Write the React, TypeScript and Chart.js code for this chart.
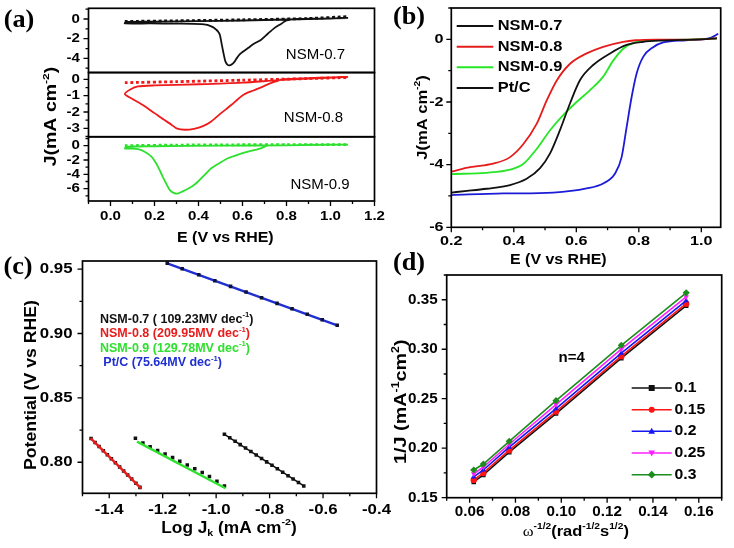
import { useEffect, useRef } from 'react';
import { Chart, registerables } from 'chart.js';

Chart.register(...registerables);

const PAGE_W = 734;
const PAGE_H = 548;
const SANS = 'Liberation Sans';
const SERIF = 'Liberation Serif';

/* ---------------- (a) cyclic voltammograms ---------------- */
const cvTickE = [0, 0.2, 0.4, 0.6, 0.8, 1.0, 1.2];
const cvTickELabels = ['0.0', '0.2', '0.4', '0.6', '0.8', '1.0', '1.2'];
const cvMinorE = [-0.1, 0.1, 0.3, 0.5, 0.7, 0.9, 1.1];

const cv07Ticks = [0, -2, -4];
const cv07TickLabels = ['0', '-2', '-4'];
const cv07Minor = [1, -1, -3, -5];
const cv08Ticks = [0, -1, -2, -3];
const cv08TickLabels = ['0', '-1', '-2', '-3'];
const cv08Minor = [-0.5, -1.5, -2.5, -3.5];
const cv09Ticks = [0, -2, -4, -6];
const cv09TickLabels = ['0', '-2', '-4', '-6'];
const cv09Minor = [1, -1, -3, -5, -7];

const cvNames = ['NSM-0.7', 'NSM-0.8', 'NSM-0.9'];

const cv07E = [1.08, 0.95, 0.85, 0.8, 0.775, 0.746, 0.715, 0.685, 0.65, 0.625, 0.6, 0.587, 0.575, 0.565, 0.552, 0.54, 0.53, 0.522, 0.512, 0.505, 0.497, 0.488, 0.481, 0.47, 0.458, 0.44, 0.413, 0.3, 0.18, 0.065, 0.07, 0.2, 0.4, 0.6, 0.8, 1.0, 1.08];
const cv07J = [0.1, 0.05, 0.0, -0.15, -0.5, -0.9, -1.5, -2.1, -2.55, -2.95, -3.35, -3.6, -3.95, -4.3, -4.6, -4.72, -4.6, -4.3, -3.3, -2.5, -1.6, -1.25, -1.09, -0.88, -0.75, -0.6, -0.51, -0.47, -0.45, -0.45, -0.3, -0.27, -0.22, -0.15, -0.05, 0.05, 0.12];
const cv07BaseE = [0.065, 0.3, 0.6, 0.9, 1.08];
const cv07BaseJ = [-0.25, -0.18, -0.08, 0.05, 0.25];

const cv08E = [1.08, 0.95, 0.85, 0.78, 0.76, 0.72, 0.685, 0.65, 0.61, 0.58, 0.55, 0.5, 0.458, 0.42, 0.38, 0.337, 0.3, 0.277, 0.24, 0.2, 0.15, 0.1, 0.065, 0.09, 0.125, 0.2, 0.4, 0.6, 0.76, 0.9, 1.08];
const cv08J = [0.15, 0.1, 0.05, 0.0, -0.09, -0.28, -0.49, -0.68, -0.9, -1.2, -1.56, -2.1, -2.58, -2.87, -3.03, -3.09, -3.0, -2.78, -2.45, -2.07, -1.6, -1.2, -0.9, -0.62, -0.43, -0.37, -0.3, -0.2, -0.05, 0.05, 0.15];
const cv08BaseE = [0.065, 0.3, 0.6, 0.9, 1.08];
const cv08BaseJ = [-0.2, -0.14, -0.05, 0.05, 0.12];

const cv09E = [1.08, 0.9, 0.8, 0.716, 0.68, 0.625, 0.58, 0.534, 0.5, 0.458, 0.43, 0.398, 0.375, 0.352, 0.33, 0.304, 0.285, 0.27, 0.25, 0.23, 0.21, 0.185, 0.155, 0.125, 0.095, 0.065, 0.08, 0.2, 0.5, 0.8, 1.08];
const cv09J = [0.15, 0.1, 0.05, 0.0, -0.4, -0.84, -1.25, -1.76, -2.35, -3.15, -4.0, -5.0, -5.6, -6.0, -6.35, -6.7, -6.55, -6.2, -5.1, -3.85, -2.6, -1.5, -0.85, -0.5, -0.42, -0.4, -0.15, -0.08, 0.0, 0.05, 0.15];
const cv09BaseE = [0.065, 0.3, 0.56, 0.8, 1.08];
const cv09BaseJ = [0.0, 0.08, 0.12, 0.14, 0.15];

/* ---------------- (b) polarization curves ---------------- */
const lsvNames = ['NSM-0.7', 'NSM-0.8', 'NSM-0.9', 'Pt/C'];
const lsvTickE = [0.2, 0.4, 0.6, 0.8, 1.0];
const lsvTickELabels = ['0.2', '0.4', '0.6', '0.8', '1.0'];
const lsvMinorE = [0.3, 0.5, 0.7, 0.9];
const lsvTickJ = [0, -2, -4, -6];
const lsvTickJLabels = ['0', '-2', '-4', '-6'];
const lsvMinorJ = [1, -1, -3, -5];

const lsv07E = [0.2, 0.25, 0.313, 0.388, 0.441, 0.484, 0.516, 0.548, 0.58, 0.612, 0.654, 0.708, 0.761, 0.814, 0.87, 0.95, 1.0, 1.05];
const lsv07J = [-4.89, -4.84, -4.77, -4.65, -4.45, -4.11, -3.64, -2.89, -2.04, -1.3, -0.82, -0.45, -0.18, -0.08, -0.04, -0.02, 0.0, 0.03];
const lsv08E = [0.2, 0.26, 0.334, 0.388, 0.43, 0.473, 0.505, 0.537, 0.58, 0.633, 0.686, 0.75, 0.79, 0.85, 1.0, 1.05];
const lsv08J = [-4.22, -4.08, -3.97, -3.76, -3.35, -2.7, -1.96, -1.32, -0.78, -0.45, -0.24, -0.08, -0.03, -0.01, 0.0, 0.04];
const lsv09E = [0.2, 0.313, 0.388, 0.43, 0.473, 0.516, 0.558, 0.601, 0.644, 0.686, 0.718, 0.75, 0.79, 0.84, 0.95, 1.05];
const lsv09J = [-4.3, -4.26, -4.16, -3.98, -3.5, -2.9, -2.42, -2.0, -1.62, -1.19, -0.68, -0.3, -0.09, -0.03, -0.01, 0.03];
const lsvPtE = [0.2, 0.366, 0.526, 0.633, 0.686, 0.724, 0.745, 0.761, 0.777, 0.793, 0.814, 0.846, 0.878, 0.95, 1.0, 1.03, 1.054];
const lsvPtJ = [-4.97, -4.92, -4.89, -4.76, -4.6, -4.28, -3.76, -2.8, -1.84, -1.09, -0.56, -0.25, -0.1, -0.03, 0.0, 0.05, 0.18];

/* ---------------- (c) Tafel plots ---------------- */
const tafelNames = ['NSM-0.7', 'NSM-0.8', 'NSM-0.9', 'Pt/C'];
const tafelSlopes = ['109.23', '209.95', '129.78', '75.64'];
const tafelTickX = [-1.4, -1.2, -1.0, -0.8, -0.6, -0.4];
const tafelTickXLabels = ['-1.4', '-1.2', '-1.0', '-0.8', '-0.6', '-0.4'];
const tafelMinorX = [-1.5, -1.3, -1.1, -0.9, -0.7, -0.5];
const tafelTickY = [0.8, 0.85, 0.9, 0.95];
const tafelTickYLabels = ['0.80', '0.85', '0.90', '0.95'];
const tafelMinorY = [0.825, 0.875, 0.925];

const tafel07LogJ = [-0.969, -0.949, -0.929, -0.91, -0.89, -0.87, -0.85, -0.83, -0.811, -0.791, -0.771, -0.751, -0.731, -0.712, -0.692, -0.672];
const tafel07E = [0.8217, 0.819, 0.8163, 0.8137, 0.811, 0.8083, 0.8056, 0.8029, 0.8003, 0.7976, 0.7949, 0.7922, 0.7895, 0.787, 0.7843, 0.7816];
const tafel07FitLogJ = [-0.969, -0.672];
const tafel07FitE = [0.8217, 0.7816];

const tafel08LogJ = [-1.468, -1.453, -1.438, -1.422, -1.407, -1.392, -1.377, -1.361, -1.346, -1.331, -1.316, -1.3, -1.285];
const tafel08E = [0.8185, 0.8154, 0.8123, 0.809, 0.8059, 0.8027, 0.7996, 0.7963, 0.7932, 0.7901, 0.787, 0.7837, 0.7805];
const tafel08FitLogJ = [-1.47, -1.281];
const tafel08FitE = [0.8188, 0.7798];

const tafel09LogJ = [-1.302, -1.274, -1.247, -1.219, -1.191, -1.163, -1.136, -1.108, -1.08, -1.052, -1.025, -0.997, -0.969];
const tafel09E = [0.8186, 0.815, 0.812, 0.8092, 0.8064, 0.8036, 0.8008, 0.7979, 0.795, 0.792, 0.7889, 0.7853, 0.7816];
const tafel09FitLogJ = [-1.296, -0.965];
const tafel09FitE = [0.816, 0.7798];

const tafelPtLogJ = [-1.183, -1.127, -1.065, -1.005, -0.946, -0.888, -0.83, -0.772, -0.716, -0.659, -0.603, -0.547];
const tafelPtE = [0.9545, 0.9503, 0.9456, 0.941, 0.9366, 0.9322, 0.9278, 0.9234, 0.9192, 0.9149, 0.9107, 0.9064];

/* ---------------- (d) Koutecky-Levich plots ---------------- */
const klPotentials = ['0.1', '0.15', '0.2', '0.25', '0.3'];
const klOmega = [0.0618, 0.066, 0.0773, 0.0977, 0.1262, 0.1545];
const klInvJ01 = [0.166, 0.173, 0.196, 0.235, 0.291, 0.344];
const klInvJ015 = [0.168, 0.175, 0.198, 0.237, 0.293, 0.346];
const klInvJ02 = [0.171, 0.178, 0.201, 0.24, 0.296, 0.349];
const klInvJ025 = [0.174, 0.181, 0.204, 0.244, 0.3, 0.353];
const klInvJ03 = [0.178, 0.184, 0.207, 0.248, 0.304, 0.357];
const klTickX = [0.06, 0.08, 0.1, 0.12, 0.14, 0.16];
const klTickXLabels = ['0.06', '0.08', '0.10', '0.12', '0.14', '0.16'];
const klMinorX = [0.05, 0.07, 0.09, 0.11, 0.13, 0.15, 0.17];
const klTickY = [0.15, 0.2, 0.25, 0.3, 0.35];
const klTickYLabels = ['0.15', '0.20', '0.25', '0.30', '0.35'];
const klMinorY = [0.175, 0.225, 0.275, 0.325, 0.375];

/* ---------------- drawing helpers ---------------- */
type Kind = 'n' | 'sup' | 'sub';
interface Seg { t: string; k: Kind; fam?: string; bold?: boolean }
const seg = (t: string, k: Kind = 'n', fam?: string, bold?: boolean): Seg => ({ t, k, fam, bold });

interface TextItem {
  segs: Seg[];
  x: number;
  y: number;
  size: number;
  bold?: boolean;
  color?: string;
  align?: 'left' | 'center' | 'right';
  rotate?: boolean;
  sx?: number;
  family?: string;
}

function drawRich(ctx: CanvasRenderingContext2D, it: TextItem) {
  const baseBold = it.bold !== false;
  const fontOf = (s: Seg) => {
    const small = s.k === 'sup' || s.k === 'sub';
    const size = small ? it.size * 0.62 : it.size;
    const bold = s.bold ?? baseBold;
    return `${bold ? 'bold ' : ''}${size}px "${s.fam || it.family || SANS}"`;
  };
  const widths = it.segs.map((s) => {
    ctx.font = fontOf(s);
    return ctx.measureText(s.t).width;
  });
  const total = widths.reduce((a, b) => a + b, 0);
  ctx.save();
  ctx.translate(it.x, it.y);
  if (it.rotate) ctx.rotate(-Math.PI / 2);
  ctx.scale(it.sx ?? 1, 1);
  let cx = it.align === 'left' ? 0 : it.align === 'right' ? -total : -total / 2;
  ctx.fillStyle = it.color || '#000';
  ctx.textBaseline = 'middle';
  ctx.textAlign = 'left';
  it.segs.forEach((s, i) => {
    ctx.font = fontOf(s);
    const dy = s.k === 'sup' ? -it.size * 0.36 : s.k === 'sub' ? it.size * 0.32 : 0;
    ctx.fillText(s.t, cx, dy);
    cx += widths[i];
  });
  ctx.restore();
}

type MarkerStyle = 'rect' | 'circle' | 'triangle' | 'triangleDown' | 'diamond';

function drawMarker(ctx: CanvasRenderingContext2D, style: MarkerStyle, x: number, y: number, r: number, color: string) {
  ctx.save();
  ctx.fillStyle = color;
  ctx.beginPath();
  if (style === 'rect') ctx.rect(x - r, y - r, 2 * r, 2 * r);
  else if (style === 'circle') ctx.arc(x, y, r, 0, Math.PI * 2);
  else if (style === 'triangle') {
    ctx.moveTo(x, y - r * 1.2);
    ctx.lineTo(x + r * 1.1, y + r * 0.8);
    ctx.lineTo(x - r * 1.1, y + r * 0.8);
    ctx.closePath();
  } else if (style === 'triangleDown') {
    ctx.moveTo(x, y + r * 1.2);
    ctx.lineTo(x + r * 1.1, y - r * 0.8);
    ctx.lineTo(x - r * 1.1, y - r * 0.8);
    ctx.closePath();
  } else {
    ctx.moveTo(x, y - r * 1.3);
    ctx.lineTo(x + r * 1.3, y);
    ctx.lineTo(x, y + r * 1.3);
    ctx.lineTo(x - r * 1.3, y);
    ctx.closePath();
  }
  ctx.fill();
  ctx.restore();
}

interface TickSet { scaleId: string; major: number[]; labels: string[]; minor: number[] }
interface LegendRow { label: string; color: string; y: number; marker?: MarkerStyle }
interface LegendSpec { x1: number; x2: number; textX: number; size: number; sx: number; lineWidth: number; rows: LegendRow[] }
interface DecoSpec {
  x: TickSet;
  y: TickSet[];
  tickSize: number;
  tickSx: number;
  xLabelDy: number;
  yLabelDx: number;
  texts: TextItem[];
  legend?: LegendSpec;
}

// Draws frame, outward ticks, tick labels, titles and legends on top of the data.
function deco(spec: DecoSpec) {
  return {
    id: 'deco',
    afterDraw(chart: any) {
      const ctx: CanvasRenderingContext2D = chart.ctx;
      const area = chart.chartArea;
      const xs = chart.scales[spec.x.scaleId];
      const inRange = (s: any, v: number) => v >= s.min - 1e-9 && v <= s.max + 1e-9;
      ctx.save();
      ctx.strokeStyle = '#000';
      ctx.lineWidth = 1.7;
      for (const t of spec.y) {
        const ys = chart.scales[t.scaleId];
        ctx.strokeRect(area.left, ys.top, area.right - area.left, ys.bottom - ys.top);
      }
      ctx.lineWidth = 1.3;
      ctx.beginPath();
      const xTick = (v: number, len: number) => {
        if (!inRange(xs, v)) return;
        const px = xs.getPixelForValue(v);
        ctx.moveTo(px, area.bottom);
        ctx.lineTo(px, area.bottom + len);
      };
      spec.x.major.forEach((v) => xTick(v, 5));
      spec.x.minor.forEach((v) => xTick(v, 3));
      for (const t of spec.y) {
        const ys = chart.scales[t.scaleId];
        const yTick = (v: number, len: number) => {
          if (!inRange(ys, v)) return;
          const py = ys.getPixelForValue(v);
          ctx.moveTo(area.left, py);
          ctx.lineTo(area.left - len, py);
        };
        t.major.forEach((v) => yTick(v, 5));
        t.minor.forEach((v) => yTick(v, 3));
      }
      ctx.stroke();

      spec.x.major.forEach((v, i) => {
        drawRich(ctx, {
          segs: [seg(spec.x.labels[i])],
          x: xs.getPixelForValue(v),
          y: area.bottom + spec.xLabelDy,
          size: spec.tickSize,
          sx: spec.tickSx,
          align: 'center',
        });
      });
      for (const t of spec.y) {
        const ys = chart.scales[t.scaleId];
        t.major.forEach((v, i) => {
          drawRich(ctx, {
            segs: [seg(t.labels[i])],
            x: area.left - spec.yLabelDx,
            y: ys.getPixelForValue(v),
            size: spec.tickSize,
            sx: spec.tickSx,
            align: 'right',
          });
        });
      }

      spec.texts.forEach((it) => drawRich(ctx, it));

      const lg = spec.legend;
      if (lg) {
        lg.rows.forEach((row) => {
          ctx.strokeStyle = row.color;
          ctx.lineWidth = lg.lineWidth;
          ctx.beginPath();
          ctx.moveTo(lg.x1, row.y);
          ctx.lineTo(lg.x2, row.y);
          ctx.stroke();
          if (row.marker) drawMarker(ctx, row.marker, (lg.x1 + lg.x2) / 2, row.y, 3, row.color);
          drawRich(ctx, { segs: [seg(row.label)], x: lg.textX, y: row.y, size: lg.size, sx: lg.sx, align: 'left' });
        });
      }
      ctx.restore();
    },
  };
}

const pts = (xs: number[], ys: number[]) => xs.map((x, i) => ({ x, y: ys[i] }));

const hidden = {
  ticks: { display: false },
  grid: { display: false },
  border: { display: false },
};

function baseOptions(left: number, top: number, right: number, bottom: number) {
  return {
    layout: { padding: { left: 0, top, right: PAGE_W - right, bottom: 0 } },
    plugins: { legend: { display: false }, tooltip: { enabled: false } },
    xFit: (s: any) => {
      s.height = PAGE_H - bottom;
    },
    yFit: (s: any) => {
      s.width = left;
    },
  };
}

function panelA() {
  const L = 88.5, T = 8.3, R = 374.5, B = 201;
  const b = baseOptions(L, T, R, B);
  const cvLine = (xs: number[], ys: number[], color: string, axis: string) => ({
    data: pts(xs, ys), yAxisID: axis, showLine: true, borderColor: color, borderWidth: 1.8,
    pointRadius: 0, tension: 0.25, fill: false,
  });
  const cvBase = (xs: number[], ys: number[], color: string, axis: string) => ({
    data: pts(xs, ys), yAxisID: axis, showLine: true, borderColor: color, borderWidth: 2.8,
    borderDash: [3, 2.6], pointRadius: 0, tension: 0.2, fill: false,
  });
  const red = '#f01a1a';
  const green = '#2ee02e';
  const yAxis = (min: number, max: number) => ({
    type: 'linear', position: 'left', stack: 'cv', stackWeight: 1, offset: false, min, max, ...hidden, afterFit: b.yFit,
  });
  return {
    type: 'scatter',
    data: {
      datasets: [
        cvLine(cv07E, cv07J, '#111', 'y07'),
        cvBase(cv07BaseE, cv07BaseJ, '#111', 'y07'),
        cvLine(cv08E, cv08J, red, 'y08'),
        cvBase(cv08BaseE, cv08BaseJ, red, 'y08'),
        cvLine(cv09E, cv09J, green, 'y09'),
        cvBase(cv09BaseE, cv09BaseJ, green, 'y09'),
      ],
    },
    options: {
      animation: false, responsive: false, devicePixelRatio: 1, events: [],
      layout: b.layout, plugins: b.plugins,
      scales: {
        x: { type: 'linear', position: 'bottom', min: -0.1, max: 1.2, ...hidden, afterFit: b.xFit },
        y09: yAxis(-7.72, 1.24),
        y08: yAxis(-3.52, 0.42),
        y07: yAxis(-5.44, 1.09),
      },
    },
    plugins: [
      deco({
        x: { scaleId: 'x', major: cvTickE, labels: cvTickELabels, minor: cvMinorE },
        y: [
          { scaleId: 'y07', major: cv07Ticks, labels: cv07TickLabels, minor: cv07Minor },
          { scaleId: 'y08', major: cv08Ticks, labels: cv08TickLabels, minor: cv08Minor },
          { scaleId: 'y09', major: cv09Ticks, labels: cv09TickLabels, minor: cv09Minor },
        ],
        tickSize: 13,
        tickSx: 1.16,
        xLabelDy: 15.7,
        yLabelDx: 8.5,
        texts: [
          { segs: [seg('(a)')], x: 19, y: 21, size: 25, family: SERIF, sx: 1.05 },
          { segs: [seg('J(mA cm'), seg('-2', 'sup'), seg(')')], x: 52, y: 116.5, size: 16, sx: 1.22, rotate: true },
          { segs: [seg('E (V vs RHE)')], x: 225.3, y: 238.3, size: 14.5, sx: 1.1 },
          { segs: [seg(cvNames[0])], x: 345, y: 54.7, size: 15, bold: false, align: 'right' },
          { segs: [seg(cvNames[1])], x: 343, y: 118, size: 15, bold: false, align: 'right' },
          { segs: [seg(cvNames[2])], x: 349.7, y: 185, size: 15, bold: false, align: 'right' },
        ],
      }),
    ],
  };
}

function panelB() {
  const L = 451.3, T = 8, R = 720.7, B = 227.3;
  const b = baseOptions(L, T, R, B);
  const colors = ['#111', '#e61c1c', '#26e626', '#1c1cd6'];
  const lsv = (xs: number[], ys: number[], color: string) => ({
    data: pts(xs, ys), showLine: true, borderColor: color, borderWidth: 1.8, pointRadius: 0,
    tension: 0.4, cubicInterpolationMode: 'monotone', fill: false,
  });
  return {
    type: 'scatter',
    data: {
      datasets: [
        lsv(lsv07E, lsv07J, colors[0]),
        lsv(lsv08E, lsv08J, colors[1]),
        lsv(lsv09E, lsv09J, colors[2]),
        lsv(lsvPtE, lsvPtJ, colors[3]),
      ],
    },
    options: {
      animation: false, responsive: false, devicePixelRatio: 1, events: [],
      layout: b.layout, plugins: b.plugins,
      scales: {
        x: { type: 'linear', position: 'bottom', min: 0.2, max: 1.062, ...hidden, afterFit: b.xFit },
        y: { type: 'linear', position: 'left', min: -6, max: 1, ...hidden, afterFit: b.yFit },
      },
    },
    plugins: [
      deco({
        x: { scaleId: 'x', major: lsvTickE, labels: lsvTickELabels, minor: lsvMinorE },
        y: [{ scaleId: 'y', major: lsvTickJ, labels: lsvTickJLabels, minor: lsvMinorJ }],
        tickSize: 13.5,
        tickSx: 1.2,
        xLabelDy: 14.4,
        yLabelDx: 7.7,
        texts: [
          { segs: [seg('(b)')], x: 409, y: 17.5, size: 25, family: SERIF, sx: 1.05 },
          { segs: [seg('J(mA cm'), seg('-2', 'sup'), seg(')')], x: 423, y: 117.5, size: 15, sx: 1.1, rotate: true },
          { segs: [seg('E (V vs RHE)')], x: 558.3, y: 260, size: 14.5, sx: 1.1 },
        ],
        legend: {
          x1: 456.7, x2: 493.3, textX: 497.7, size: 14.5, sx: 1.13, lineWidth: 2,
          rows: [
            { label: lsvNames[0], color: '#111', y: 26 },
            { label: lsvNames[1], color: colors[1], y: 46.7 },
            { label: lsvNames[2], color: colors[2], y: 67.3 },
            { label: lsvNames[3], color: '#111', y: 88 },
          ],
        },
      }),
    ],
  };
}

function panelC() {
  const L = 82.5, T = 261, R = 376.5, B = 493.3;
  const b = baseOptions(L, T, R, B);
  const red = '#e81c1c';
  const green = '#30e030';
  const blue = '#1f2fd2';
  const squares = (xs: number[], ys: number[], color: string) => ({
    data: pts(xs, ys), showLine: false, pointStyle: 'rect', pointRadius: 2.5,
    pointBackgroundColor: color, pointBorderColor: color, pointBorderWidth: 0,
  });
  const fit = (xs: number[], ys: number[], color: string, width: number) => ({
    data: pts(xs, ys), showLine: true, borderColor: color, borderWidth: width, pointRadius: 0, fill: false,
  });
  return {
    type: 'scatter',
    data: {
      datasets: [
        fit(tafel08FitLogJ, tafel08FitE, red, 2.4),
        fit(tafel09FitLogJ, tafel09FitE, green, 2.4),
        squares(tafelPtLogJ, tafelPtE, '#111133'),
        squares(tafel08LogJ, tafel08E, '#111'),
        squares(tafel09LogJ, tafel09E, '#111'),
        squares(tafel07LogJ, tafel07E, '#111'),
        fit(tafel07FitLogJ, tafel07FitE, '#111', 1.5),
        fit([tafelPtLogJ[0], tafelPtLogJ[tafelPtLogJ.length - 1]], [tafelPtE[0], tafelPtE[tafelPtE.length - 1]], blue, 2.4),
      ],
    },
    options: {
      animation: false, responsive: false, devicePixelRatio: 1, events: [],
      layout: b.layout, plugins: b.plugins,
      scales: {
        x: { type: 'linear', position: 'bottom', min: -1.5, max: -0.4, ...hidden, afterFit: b.xFit },
        y: { type: 'linear', position: 'left', min: 0.7759, max: 0.9563, ...hidden, afterFit: b.yFit },
      },
    },
    plugins: [
      deco({
        x: { scaleId: 'x', major: tafelTickX, labels: tafelTickXLabels, minor: tafelMinorX },
        y: [{ scaleId: 'y', major: tafelTickY, labels: tafelTickYLabels, minor: tafelMinorY }],
        tickSize: 15,
        tickSx: 1.12,
        xLabelDy: 16.7,
        yLabelDx: 10,
        texts: [
          { segs: [seg('(c)')], x: 18, y: 268, size: 25, family: SERIF, sx: 1.05 },
          { segs: [seg('Potential (V vs RHE)')], x: 31.7, y: 385, size: 17, sx: 1.04, rotate: true },
          {
            segs: [seg('Log J'), seg('k', 'sub'), seg(' (mA cm'), seg('-2', 'sup'), seg(')')],
            x: 229, y: 528.3, size: 16, sx: 1.08,
          },
          { segs: [seg(`${tafelNames[0]} ( ${tafelSlopes[0]}MV dec`), seg('-1', 'sup'), seg(')')], x: 100, y: 319.5, size: 12.5, align: 'left', color: '#111' },
          { segs: [seg(`${tafelNames[1]} (${tafelSlopes[1]}MV dec`), seg('-1', 'sup'), seg(')')], x: 100, y: 334, size: 12.5, align: 'left', color: red },
          { segs: [seg(`${tafelNames[2]} (${tafelSlopes[2]}MV dec`), seg('-1', 'sup'), seg(')')], x: 100, y: 348.5, size: 12.5, align: 'left', color: green },
          { segs: [seg(`${tafelNames[3]} (${tafelSlopes[3]}MV dec`), seg('-1', 'sup'), seg(')')], x: 103.3, y: 363, size: 12.5, align: 'left', color: blue },
        ],
      }),
    ],
  };
}

function panelD() {
  const L = 446.7, T = 275, R = 721.7, B = 497.7;
  const b = baseOptions(L, T, R, B);
  const colors = ['#111', '#ff1414', '#1616f0', '#ff20ff', '#1c8c1c'];
  const styles = ['rect', 'circle', 'triangle', 'triangle', 'rectRot'];
  const series = [klInvJ01, klInvJ015, klInvJ02, klInvJ025, klInvJ03];
  const datasets = series.map((ys, i) => ({
    data: pts(klOmega, ys), showLine: true, borderColor: colors[i], borderWidth: 1.6,
    pointStyle: styles[i], pointRadius: i === 4 ? 3.6 : 3.2, rotation: i === 3 ? 180 : 0,
    pointBackgroundColor: colors[i], pointBorderColor: colors[i], pointBorderWidth: 0, fill: false,
  })).reverse();
  const markers: MarkerStyle[] = ['rect', 'circle', 'triangle', 'triangleDown', 'diamond'];
  const rowsY = [388, 409.7, 431.3, 453, 474.7];
  return {
    type: 'scatter',
    data: { datasets },
    options: {
      animation: false, responsive: false, devicePixelRatio: 1, events: [],
      layout: b.layout, plugins: b.plugins,
      scales: {
        x: { type: 'linear', position: 'bottom', min: 0.05, max: 0.17, ...hidden, afterFit: b.xFit },
        y: { type: 'linear', position: 'left', min: 0.15, max: 0.375, ...hidden, afterFit: b.yFit },
      },
    },
    plugins: [
      deco({
        x: { scaleId: 'x', major: klTickX, labels: klTickXLabels, minor: klMinorX },
        y: [{ scaleId: 'y', major: klTickY, labels: klTickYLabels, minor: klMinorY }],
        tickSize: 14.5,
        tickSx: 1.05,
        xLabelDy: 14,
        yLabelDx: 9,
        texts: [
          { segs: [seg('(d)')], x: 409, y: 264, size: 25, family: SERIF, sx: 1.05 },
          {
            segs: [seg('1/J (mA'), seg('-1', 'sup'), seg('cm'), seg('2', 'sup'), seg(')')],
            x: 401.7, y: 401.7, size: 16.5, sx: 1.2, rotate: true,
          },
          {
            segs: [
              seg('ω', 'n', SERIF, false), seg('-1/2', 'sup'), seg('(rad'), seg('-1/2', 'sup'),
              seg('s'), seg('1/2', 'sup'), seg(')'),
            ],
            x: 575.8, y: 531.7, size: 15, sx: 1.1,
          },
          { segs: [seg('n=4')], x: 571.7, y: 358.3, size: 15 },
        ],
        legend: {
          x1: 631.7, x2: 671.7, textX: 674.5, size: 15, sx: 1.05, lineWidth: 1.6,
          rows: klPotentials.map((p, i) => ({ label: p, color: colors[i], y: rowsY[i], marker: markers[i] })),
        },
      }),
    ],
  };
}

export default function App() {
  const refA = useRef<HTMLCanvasElement>(null);
  const refB = useRef<HTMLCanvasElement>(null);
  const refC = useRef<HTMLCanvasElement>(null);
  const refD = useRef<HTMLCanvasElement>(null);

  useEffect(() => {
    const pairs: [HTMLCanvasElement | null, any][] = [
      [refA.current, panelA()],
      [refB.current, panelB()],
      [refC.current, panelC()],
      [refD.current, panelD()],
    ];
    const charts = pairs.filter(([c]) => c).map(([c, cfg]) => new Chart(c as HTMLCanvasElement, cfg));
    return () => charts.forEach((c) => c.destroy());
  }, []);

  const canvasStyle = { position: 'absolute' as const, left: 0, top: 0 };
  return (
    <div style={{ position: 'absolute', left: 0, top: 0, width: PAGE_W, height: PAGE_H, background: '#fff', overflow: 'hidden' }}>
      <canvas ref={refA} width={PAGE_W} height={PAGE_H} style={canvasStyle} />
      <canvas ref={refB} width={PAGE_W} height={PAGE_H} style={canvasStyle} />
      <canvas ref={refC} width={PAGE_W} height={PAGE_H} style={canvasStyle} />
      <canvas ref={refD} width={PAGE_W} height={PAGE_H} style={canvasStyle} />
    </div>
  );
}
